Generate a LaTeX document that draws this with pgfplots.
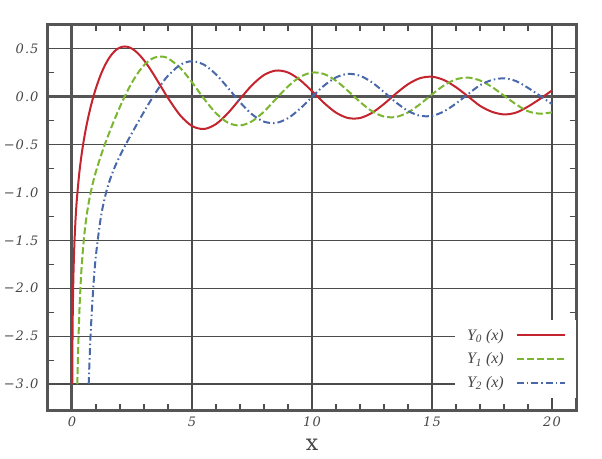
\documentclass[border=0pt]{standalone}
\usepackage{pgfplots}
\pgfplotsset{compat=1.18}
\usepackage{fontspec}
\setmainfont{DejaVu Serif}
\newfontfamily\tickfont[LetterSpace=8]{DejaVu Serif}
\newfontfamily\legfont{Liberation Serif}
\definecolor{cY0}{RGB}{196,36,46}
\definecolor{cY1}{RGB}{122,182,48}
\definecolor{cY2}{RGB}{72,104,170}
\definecolor{gridc}{RGB}{75,75,75}
\definecolor{framec}{RGB}{85,85,85}
\definecolor{tickc}{RGB}{70,70,70}

\pgfplotstableread{
x y
0.0101 -3.0
0.015 -2.7475
0.02 -2.5643
0.03 -2.3061
0.05 -1.9793
0.07 -1.7660
0.1 -1.5342
0.15 -1.2708
0.2 -1.0811
0.3 -0.8073
0.4 -0.6060
0.5 -0.4445
0.6 -0.3085
0.7 -0.1907
0.8 -0.0868
0.9 0.0056
1.0 0.0883
1.2 0.2284
1.4 0.3379
1.6 0.4204
1.8 0.4774
2.0 0.5104
2.2 0.5208
2.4 0.5104
2.6 0.4813
2.8 0.4359
3.0 0.3769
3.2 0.3071
3.4 0.2296
3.6 0.1477
3.8 0.0645
4.0 -0.0169
4.5 -0.1947
5.0 -0.3085
5.5 -0.3395
6.0 -0.2882
6.5 -0.1733
7.0 -0.0259
7.5 0.1173
8.0 0.2235
8.5 0.2702
9.0 0.2499
9.5 0.1712
10.0 0.0557
10.5 -0.0675
11.0 -0.1688
11.5 -0.2252
12.0 -0.2252
12.5 -0.1712
13.0 -0.0782
13.5 0.0301
14.0 0.1272
14.5 0.1903
15.0 0.2055
15.5 0.1707
16.0 0.0958
16.5 0.0002
17.0 -0.0977
17.5 -0.1604
18.0 -0.1876
18.5 -0.1687
19.0 -0.1057
19.5 -0.0255
20.0 0.0626
}\tabYzero

\pgfplotstableread{
x y
0.2235 -3.0
0.25 -2.7041
0.3 -2.2931
0.35 -2.0045
0.4 -1.7809
0.5 -1.4715
0.6 -1.2604
0.7 -1.1032
0.8 -0.9781
0.9 -0.8731
1.0 -0.7812
1.2 -0.6211
1.4 -0.4791
1.6 -0.3476
1.8 -0.2237
2.0 -0.1070
2.2 0.0015
2.4 0.1005
2.6 0.1884
2.8 0.2635
3.0 0.3247
3.2 0.3707
3.4 0.4010
3.6 0.4154
3.8 0.4141
4.0 0.3979
4.5 0.3001
5.0 0.1479
5.5 -0.0238
6.0 -0.1750
6.5 -0.2742
7.0 -0.3027
7.5 -0.2592
8.0 -0.1581
8.5 -0.0261
9.0 0.1043
9.5 0.2032
10.0 0.2490
10.5 0.2337
11.0 0.1637
11.5 0.0579
12.0 -0.0571
12.5 -0.1539
13.0 -0.2101
13.5 -0.2140
14.0 -0.1666
14.5 -0.0810
15.0 0.0211
15.5 0.1148
16.0 0.1780
16.5 0.1965
17.0 0.1667
17.5 0.0986
18.0 0.0082
18.5 -0.0818
19.0 -0.1546
19.5 -0.1796
20.0 -0.1655
}\tabYone

\pgfplotstableread{
x y
0.695 -3.0
0.75 -2.6287
0.8 -2.3585
0.9 -1.9458
1.0 -1.6507
1.2 -1.2636
1.4 -1.0223
1.6 -0.8549
1.8 -0.7260
2.0 -0.6174
2.2 -0.5194
2.4 -0.4266
2.6 -0.3364
2.8 -0.2477
3.0 -0.1604
3.2 -0.0754
3.4 0.0063
3.6 0.0831
3.8 0.1534
4.0 0.2159
4.5 0.3281
5.0 0.3677
5.5 0.3308
6.0 0.2299
6.5 0.0889
7.0 -0.0605
7.5 -0.1864
8.0 -0.2630
8.5 -0.2763
9.0 -0.2268
9.5 -0.1284
10.0 -0.0059
10.5 0.1120
11.0 0.1986
11.5 0.2353
12.0 0.2157
12.5 0.1466
13.0 0.0459
13.5 -0.0618
14.0 -0.1510
14.5 -0.2015
15.0 -0.2027
15.5 -0.1558
16.0 -0.0736
16.5 0.0236
17.0 0.1173
17.5 0.1717
18.0 0.1885
18.5 0.1598
19.0 0.0894
19.5 0.0070
20.0 -0.0792
}\tabYtwo

\begin{document}
\begin{tikzpicture}
\begin{axis}[
  scale only axis, width=528pt, height=385pt,
  xmin=-1, xmax=21, ymin=-3.27, ymax=0.745,
  xtick={5,10,15,20}, xticklabels={5,10,15,20},
  extra x ticks={0}, extra x tick labels={0},
  ytick={-3,-2.5,-2,-1.5,-1,-0.5,0.5},
  yticklabels={−3.0,−2.5,−2.0,−1.5,−1.0,−0.5,0.5},
  extra y ticks={0}, extra y tick labels={0.0},
  extra x tick style={grid=major, major grid style={framec, line width=3pt}},
  extra y tick style={grid=major, major grid style={framec, line width=3pt}},
  minor xtick={1,2,3,4,6,7,8,9,11,12,13,14,16,17,18,19},
  minor ytick={-2.75,-2.25,-1.75,-1.25,-0.75,-0.25,0.25},
  grid=major,
  major grid style={gridc, line width=1.3pt},
  tick align=inside,
  major tick length=0pt,
  minor tick length=6pt,
  minor tick style={gridc, line width=1.2pt},
  axis line style={framec, line width=3pt},
  ticklabel style={font=\tickfont\fontsize{13}{15}\selectfont\itshape, text=tickc},
  xticklabel style={yshift=-3pt},
  yticklabel style={xshift=-6pt},
  xlabel={x}, xlabel style={font=\fontsize{22}{24}\selectfont, text=tickc, yshift=-6pt},
  legend plot pos=right,
  legend cell align=right,
  legend style={at={(1,0)}, anchor=south east, yshift=12pt, draw=none, fill=white,
    font=\legfont\fontsize{16}{18}\selectfont\itshape, text=tickc,
    row sep=7pt, column sep=10pt, inner xsep=10pt, inner ysep=7pt},
  legend image code/.code={\draw[#1] (0pt,0pt) -- (48pt,0pt);},
]
\addplot[cY0, line width=2pt, smooth] table {\tabYzero};
\addlegendentry{Y\textsubscript{0} (x)}
\addplot[cY1, line width=2pt, dash pattern=on 7pt off 3pt, smooth] table {\tabYone};
\addlegendentry{Y\textsubscript{1} (x)}
\addplot[cY2, line width=2pt, dash pattern=on 7pt off 3pt on 1.5pt off 3pt, smooth] table {\tabYtwo};
\addlegendentry{Y\textsubscript{2} (x)}
\coordinate (sw) at (rel axis cs:0,0);
\coordinate (ne) at (rel axis cs:1,1);
\end{axis}
\pgfresetboundingbox
\path ([shift={(-48pt,-48pt)}]sw) rectangle ([shift={(26pt,25pt)}]ne);
\end{tikzpicture}
\end{document}
